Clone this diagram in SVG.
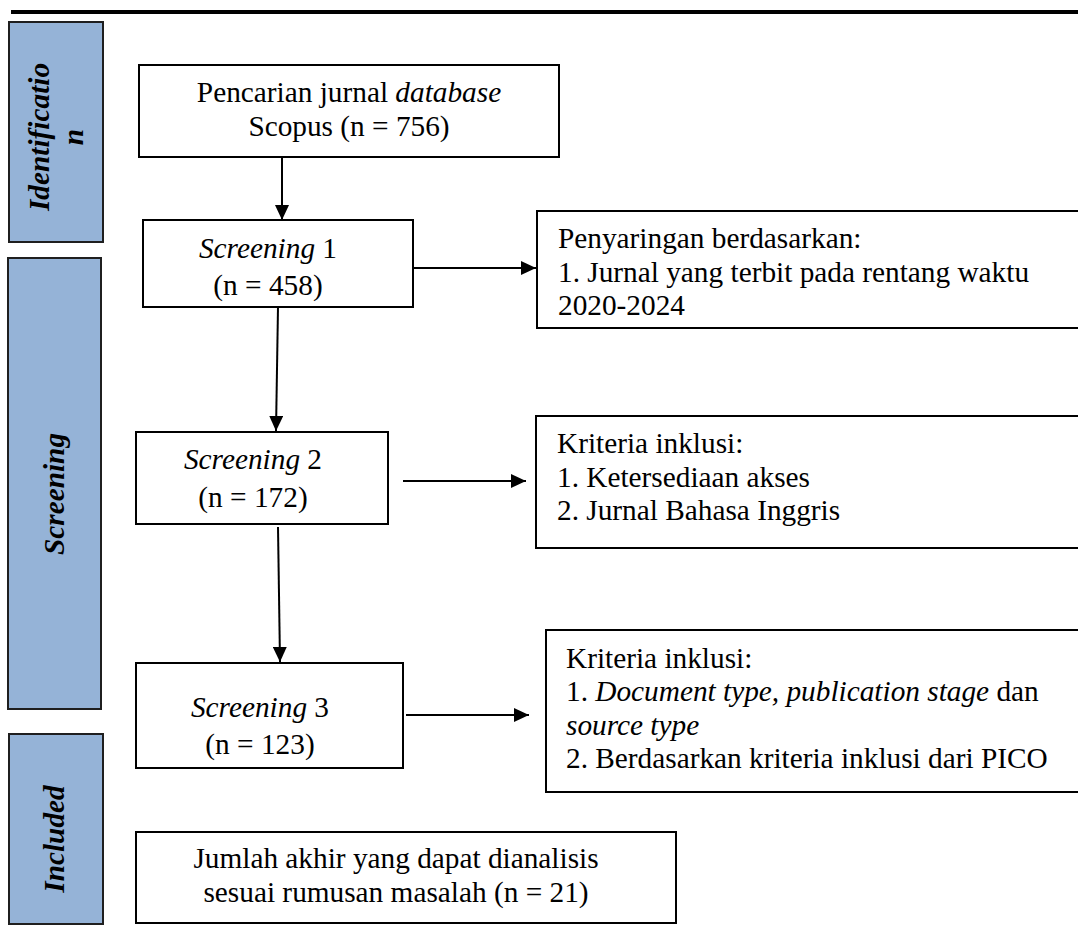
<svg xmlns="http://www.w3.org/2000/svg" width="1078" height="931" viewBox="0 0 1078 931">
<style>
.t{font-family:"Liberation Serif","Times New Roman",serif;font-size:29.3px;fill:#000}
.i{font-style:italic}
.side{font-family:"Liberation Serif","Times New Roman",serif;font-size:29.3px;font-weight:bold;font-style:italic;fill:#000}
.sbox{fill:#95B3D7;stroke:#1f1f1f;stroke-width:2}
.box{fill:#fff;stroke:#000;stroke-width:2}
.conn{stroke:#000;stroke-width:2;fill:none;marker-end:url(#arr)}
</style>
<defs>
<marker id="arr" markerUnits="userSpaceOnUse" markerWidth="15" markerHeight="14" refX="15" refY="7" orient="auto">
<path d="M0,0 L15,7 L0,14 z" fill="#000"/>
</marker>
</defs>
<rect width="1078" height="931" fill="#fff"/>
<line x1="11" y1="12" x2="1078" y2="12" stroke="#000" stroke-width="4"/>

<g id="side-identification">
<rect class="sbox" x="9" y="22" width="94" height="220"/>
<text class="side" transform="translate(49,137) rotate(-90)" text-anchor="middle">Identificatio</text>
<text class="side" transform="translate(83,137) rotate(-90)" text-anchor="middle">n</text>
</g>
<g id="side-screening">
<rect class="sbox" x="8" y="258" width="93" height="451"/>
<text class="side" transform="translate(64,494) rotate(-90)" text-anchor="middle">Screening</text>
</g>
<g id="side-included">
<rect class="sbox" x="9" y="734" width="94" height="190"/>
<text class="side" transform="translate(64,839) rotate(-90)" text-anchor="middle">Included</text>
</g>

<g id="connectors">
<line class="conn" x1="282" y1="157" x2="282" y2="220"/>
<line class="conn" x1="413" y1="268" x2="536" y2="268"/>
<line class="conn" x1="278" y1="307" x2="276" y2="431"/>
<line class="conn" x1="403" y1="481" x2="526" y2="481"/>
<line class="conn" x1="278" y1="527" x2="280" y2="662"/>
<line class="conn" x1="406" y1="715" x2="529" y2="715"/>
</g>

<g id="n-search">
<rect class="box" x="139" y="65" width="420" height="92"/>
<text class="t" x="349" y="102" text-anchor="middle">Pencarian jurnal <tspan class="i">database</tspan></text>
<text class="t" x="349" y="136" text-anchor="middle">Scopus (n = 756)</text>
</g>
<g id="n-screening1">
<rect class="box" x="143" y="220" width="270" height="87"/>
<text class="t" x="268" y="258" text-anchor="middle"><tspan class="i">Screening</tspan> 1</text>
<text class="t" x="268" y="295" text-anchor="middle">(n = 458)</text>
</g>
<g id="n-filter1">
<rect class="box" x="537" y="211" width="560" height="117"/>
<text class="t" x="558" y="248">Penyaringan berdasarkan:</text>
<text class="t" x="558" y="282">1. Jurnal yang terbit pada rentang waktu</text>
<text class="t" x="558" y="315">2020-2024</text>
</g>
<g id="n-screening2">
<rect class="box" x="136" y="432" width="252" height="92"/>
<text class="t" x="253" y="469" text-anchor="middle"><tspan class="i">Screening</tspan> 2</text>
<text class="t" x="253" y="507" text-anchor="middle">(n = 172)</text>
</g>
<g id="n-filter2">
<rect class="box" x="536" y="416" width="560" height="132"/>
<text class="t" x="557" y="453">Kriteria inklusi:</text>
<text class="t" x="557" y="487">1. Ketersediaan akses</text>
<text class="t" x="557" y="520">2. Jurnal Bahasa Inggris</text>
</g>
<g id="n-screening3">
<rect class="box" x="136" y="663" width="267" height="105"/>
<text class="t" x="260" y="717" text-anchor="middle"><tspan class="i">Screening</tspan> 3</text>
<text class="t" x="260" y="754" text-anchor="middle">(n = 123)</text>
</g>
<g id="n-filter3">
<rect class="box" x="546" y="630" width="550" height="162"/>
<text class="t" x="566" y="668">Kriteria inklusi:</text>
<text class="t" x="566" y="701">1. <tspan class="i">Document type, publication stage</tspan> dan</text>
<text class="t" x="566" y="735"><tspan class="i">source type</tspan></text>
<text class="t" x="566" y="768">2. Berdasarkan kriteria inklusi dari PICO</text>
</g>
<g id="n-final">
<rect class="box" x="136" y="832" width="540" height="91"/>
<text class="t" x="396" y="868" text-anchor="middle">Jumlah akhir yang dapat dianalisis</text>
<text class="t" x="396" y="902" text-anchor="middle">sesuai rumusan masalah (n = 21)</text>
</g>
</svg>
